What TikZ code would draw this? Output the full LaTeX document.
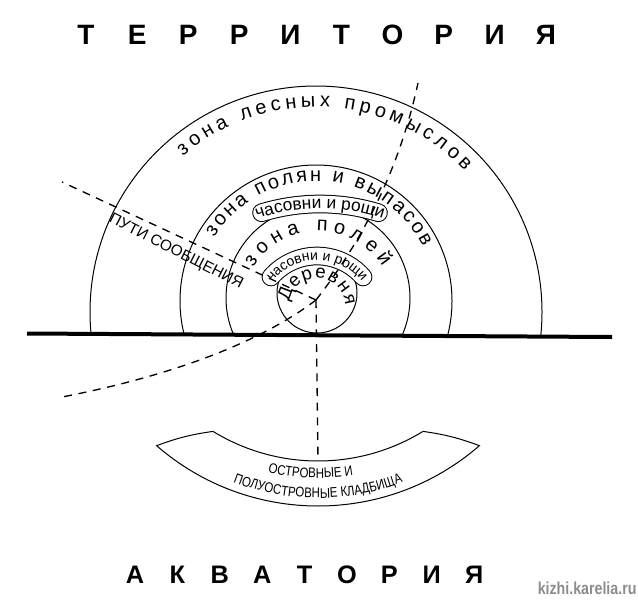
\documentclass[tikz,border=0pt]{standalone}
\usepackage{fontspec}
\setmainfont{Liberation Sans}
\newfontfamily\narrowfont[FakeStretch=0.82]{Liberation Sans}
\usetikzlibrary{decorations.text}

\tikzset{every picture/.style={line width=0.75pt}}
\tikzset{
  zonearc/.style={line width=0.75pt},
  road/.style={line width=1pt,dash pattern=on 6pt off 5pt},
  shore/.style={line width=3pt},
  capedge/.style={line width=14pt,line cap=round},
  capfill/.style={line width=12.5pt,line cap=round,white},
  titlech/.style={font=\bfseries\fontsize{21}{25}\selectfont,inner sep=0pt,anchor=base},
  waterch/.style={font=\bfseries\fontsize{19}{23}\selectfont,inner sep=0pt,anchor=base},
  arctext/.style={decorate,decoration={text along path,text={#1},text align=fit to path}},
  arctextc/.style={decorate,decoration={text along path,text={#1},text align=center}},
}
\newcommand\zonefont{\fontsize{15}{18}\selectfont}
\newcommand\villfont{\fontsize{14}{16}\selectfont}
\newcommand\chapfont{\fontsize{13}{15}\selectfont}
\newcommand\chapsmallfont{\fontsize{10.5}{12}\selectfont}
\newcommand\cemfont{\narrowfont\fontsize{10.5}{12}\selectfont}

\begin{document}
\begin{tikzpicture}[x=0.75pt,y=0.75pt]
		\useasboundingbox (0,0) rectangle (638,-600);

		%Centres of the zones
		\coordinate (c1) at (316,-312);
		\coordinate (c2) at (316,-301);
		\coordinate (c3) at (318,-298);
		\coordinate (c4) at (317,-293);
		\coordinate (t3) at (318,-307);
		\coordinate (t4) at (317,-306);
		\coordinate (cap1) at (320,-404);
		\coordinate (cap2) at (317,-317);
		\coordinate (cem) at (318,-260);
		\coordinate (jn) at (316,-300);
		\coordinate (shoreW) at (27,-333.5);
		\coordinate (shoreE) at (612,-337);
		\coordinate (roadW) at (62,-182);
		\coordinate (roadN) at (418,-83);
		\coordinate (roadSW) at (62,-397);

		%Shape: Circles [cut at the shore]
		\begin{scope}
		\clip (0,0) rectangle (638,-335);
		\draw[zonearc] (c1) circle[radius=226];
		\draw[zonearc] (c2) circle[radius=136];
		\draw[zonearc] (c3) circle[radius=92];
		\draw[zonearc] (c4) circle[radius=40];
		\end{scope}

		%Straight Lines: shore
		\draw[shore] (shoreW) -- (shoreE);

		%Shape: Capsules
		\draw[capedge] ([shift={(107:200)}]cap1) arc[start angle=107,end angle=73,radius=200];
		\draw[capfill] ([shift={(107:200)}]cap1) arc[start angle=107,end angle=73,radius=200];
		\draw[capedge] ([shift={(139:61)}]cap2) arc[start angle=139,end angle=41,radius=61];
		\draw[capfill] ([shift={(139:61)}]cap2) arc[start angle=139,end angle=41,radius=61];

		%Texts along the arcs
		\path[arctext={|\zonefont|зона лесных промыслов}] ([shift={(130.5:205)}]c1) arc[start angle=130.5,end angle=43.5,radius=205];
		\path[arctext={|\zonefont|зона полян и выпасов}] ([shift={(148:120)}]c2) arc[start angle=148,end angle=27,radius=120];
		\path[arctext={|\zonefont|зона полей}] ([shift={(148.5:76)}]t3) arc[start angle=148.5,end angle=32,radius=76];
		\path[arctext={|\villfont|Деревня}] ([shift={(172:28)}]t4) arc[start angle=172,end angle=2,radius=28];
		\path[arctextc={|\chapfont|часовни и рощи}] ([shift={(112:195.5)}]cap1) arc[start angle=112,end angle=68,radius=195.5];
		\path[arctextc={|\chapsmallfont|часовни и рощи}] ([shift={(150:57)}]cap2) arc[start angle=150,end angle=30,radius=57];

		%Shape: Cemeteries banner
		\draw[zonearc] ([shift={(-121.5:201)}]cem) coordinate (cemTL) arc[start angle=-121.5,end angle=-58.5,radius=201] to[bend left=6] ([shift={(-49:246)}]cem) arc[start angle=-49,end angle=-131,radius=246] to[bend left=6] (cemTL) -- cycle;
		\coordinate (cemTop) at ([shift={(-90:201)}]cem);
		\path[arctextc={|\cemfont|ОСТРОВНЫЕ И}] ([shift={(-110:218)}]cem) arc[start angle=-110,end angle=-74,radius=218];
		\path[arctextc={|\cemfont|ПОЛУОСТРОВНЫЕ КЛАДБИЩА}] ([shift={(-116:238)}]cem) arc[start angle=-116,end angle=-64,radius=238];

		%Curve Lines: roads
		\draw[road] (jn) -- (roadW);
		\draw[road] (jn) .. controls (355,-250) and (397,-180) .. (roadN);
		\draw[road] (jn) .. controls (250,-350) and (150,-380) .. (roadSW);
		\draw[road] (jn) -- (cemTop);
		\node[rotate=-27,font=\fontsize{11.5}{13}\selectfont,inner sep=0pt] (roads) at (176,-252) {ПУТИ СООБЩЕНИЯ};

		%Titles
		\foreach \ch [count=\i] in {Т,Е,Р,Р,И,Т,О,Р,И,Я}
		  \node[titlech] (terr\i) at ({86+(\i-1)*51.1},-44) {\ch};
		\foreach \ch [count=\i] in {А,К,В,А,Т,О,Р,И,Я}
		  \node[waterch] (aqua\i) at ({135+(\i-1)*42.4},-583) {\ch};
		\node[text=black!45,font=\narrowfont\bfseries\fontsize{13}{15}\selectfont,anchor=east,inner sep=0pt] (site) at (637,-588) {kizhi.karelia.ru};

\end{tikzpicture}
\end{document}
